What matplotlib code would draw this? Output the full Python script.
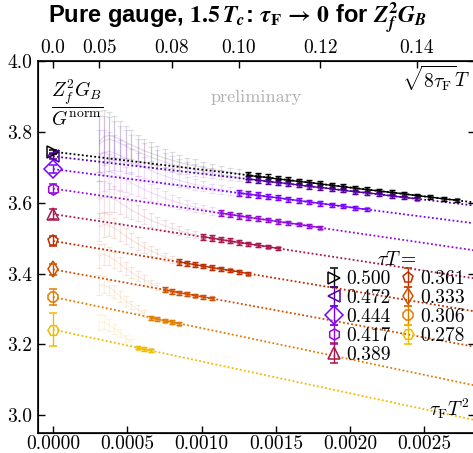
import numpy as np
import matplotlib
matplotlib.use('Agg')
import matplotlib.pyplot as plt

plt.rcParams['font.family'] = 'serif'
plt.rcParams['font.serif'] = ['cmr10']
plt.rcParams['mathtext.fontset'] = 'cm'
plt.rcParams['axes.formatter.use_mathtext'] = True
plt.rcParams['axes.unicode_minus'] = False

# flow radius sqrt(8 tau_F) T of every flow time
flow_radius = [0.0500, 0.0525, 0.0550, 0.0575, 0.0600, 0.0625, 0.0650, 0.0675,
               0.0700, 0.0725, 0.0750, 0.0775, 0.0800, 0.0825, 0.0850, 0.0875,
               0.0900, 0.0925, 0.0950, 0.0975, 0.1000, 0.1025, 0.1050, 0.1075,
               0.1100, 0.1125, 0.1150, 0.1175, 0.1200, 0.1225, 0.1250, 0.1275,
               0.1300, 0.1325, 0.1350, 0.1375, 0.1400, 0.1425, 0.1450, 0.1475]

tauT = ['0.500', '0.472', '0.444', '0.417', '0.389', '0.361', '0.333', '0.306', '0.278']
markers = ['>', '<', 'D', 'h', '^', 'p', 'd', '8', 'H']
msizes = [8, 8, 9, 8, 8, 8, 8, 8, 8]

# continuum (tau_F -> 0) values and the linear fit slopes
cont_val = [3.744, 3.731, 3.695, 3.640, 3.568, 3.492, 3.412, 3.334, 3.242]
cont_err = [0.006, 0.009, 0.012, 0.012, 0.014, 0.013, 0.016, 0.022, 0.046]
fit_slope = [-50.5, -49.0, -54.0, -61.5, -64.0, -70.0, -77.0, -88.0, -90.0]

# flow times too small for the fit (drawn faded)
faded_vals = [
    [3.773, 3.787, 3.790, 3.786, 3.779, 3.771, 3.763, 3.755, 3.747, 3.740, 3.733,
     3.726, 3.720, 3.714, 3.708, 3.704, 3.699, 3.694, 3.690, 3.686, 3.682],
    [3.766, 3.776, 3.779, 3.775, 3.768, 3.760, 3.752, 3.744, 3.736, 3.729, 3.722,
     3.715, 3.709, 3.703, 3.698, 3.693, 3.688, 3.684, 3.680, 3.676, 3.672],
    [3.733, 3.742, 3.745, 3.741, 3.733, 3.725, 3.716, 3.707, 3.699, 3.691, 3.683,
     3.676, 3.669, 3.663, 3.657, 3.651, 3.646, 3.641, 3.637, 3.633],
    [3.679, 3.687, 3.688, 3.683, 3.674, 3.665, 3.656, 3.646, 3.637, 3.629, 3.621,
     3.613, 3.606, 3.599, 3.593, 3.587, 3.582, 3.576],
    [3.608, 3.616, 3.616, 3.610, 3.600, 3.590, 3.579, 3.570, 3.560, 3.551, 3.543,
     3.535, 3.528, 3.522, 3.515, 3.510],
    [3.532, 3.538, 3.536, 3.528, 3.518, 3.506, 3.495, 3.484, 3.474, 3.465, 3.456,
     3.447, 3.440],
    [3.450, 3.454, 3.449, 3.439, 3.427, 3.415, 3.403, 3.392, 3.382, 3.372, 3.364],
    [3.367, 3.368, 3.361, 3.350, 3.336, 3.323, 3.311, 3.299, 3.288],
    [3.264, 3.263, 3.255, 3.244, 3.232, 3.218, 3.206],
]
faded_errs = [
    [0.085, 0.075, 0.066, 0.058, 0.052, 0.046, 0.041, 0.037, 0.033, 0.030, 0.027,
     0.025, 0.023, 0.021, 0.019, 0.018, 0.016, 0.015, 0.014, 0.013, 0.012],
    [0.080, 0.070, 0.062, 0.055, 0.049, 0.044, 0.039, 0.035, 0.032, 0.029, 0.026,
     0.024, 0.022, 0.020, 0.018, 0.017, 0.015, 0.014, 0.013, 0.012, 0.011],
    [0.072, 0.063, 0.056, 0.050, 0.044, 0.040, 0.036, 0.032, 0.029, 0.026, 0.024,
     0.022, 0.020, 0.018, 0.016, 0.015, 0.014, 0.013, 0.012, 0.011],
    [0.062, 0.055, 0.049, 0.043, 0.039, 0.035, 0.031, 0.028, 0.025, 0.023, 0.021,
     0.019, 0.017, 0.016, 0.014, 0.013, 0.012, 0.011],
    [0.052, 0.046, 0.041, 0.036, 0.032, 0.029, 0.026, 0.023, 0.021, 0.019, 0.017,
     0.015, 0.014, 0.013, 0.012, 0.011],
    [0.040, 0.035, 0.031, 0.028, 0.025, 0.022, 0.020, 0.018, 0.016, 0.014, 0.013,
     0.012, 0.011],
    [0.034, 0.030, 0.026, 0.023, 0.021, 0.018, 0.016, 0.014, 0.013, 0.011, 0.010],
    [0.028, 0.024, 0.021, 0.018, 0.016, 0.014, 0.012, 0.011, 0.010],
    [0.022, 0.019, 0.016, 0.014, 0.012, 0.010, 0.009],
]

# flow times used in the extrapolation
fit_vals = [
    [3.677, 3.674, 3.671, 3.667, 3.664, 3.660, 3.657, 3.653, 3.649, 3.645, 3.641,
     3.637, 3.633, 3.629, 3.625, 3.620, 3.616, 3.611, 3.607],
    [3.667, 3.664, 3.660, 3.657, 3.654, 3.650, 3.646, 3.643, 3.639, 3.635, 3.631,
     3.628, 3.624, 3.619, 3.615, 3.611],
    [3.628, 3.624, 3.621, 3.617, 3.614, 3.610, 3.606, 3.602, 3.598, 3.594, 3.590,
     3.585, 3.581],
    [3.571, 3.567, 3.563, 3.559, 3.555, 3.551, 3.547, 3.543, 3.539, 3.534, 3.530],
    [3.504, 3.500, 3.496, 3.492, 3.488, 3.484, 3.480, 3.476, 3.471],
    [3.433, 3.429, 3.425, 3.421, 3.417, 3.413, 3.409, 3.405, 3.400],
    [3.354, 3.350, 3.346, 3.342, 3.338, 3.334, 3.330],
    [3.275, 3.271, 3.267, 3.263, 3.259],
    [3.191, 3.187, 3.183],
]
fit_errs = [
    [0.010, 0.010, 0.009, 0.009, 0.009, 0.008, 0.008, 0.008, 0.007, 0.007, 0.007,
     0.006, 0.006, 0.006, 0.005, 0.005, 0.005, 0.005, 0.004],
    [0.009, 0.009, 0.008, 0.008, 0.008, 0.007, 0.007, 0.007, 0.006, 0.006, 0.006,
     0.005, 0.005, 0.005, 0.005, 0.004],
    [0.009, 0.008, 0.008, 0.007, 0.007, 0.007, 0.006, 0.006, 0.006, 0.005, 0.005,
     0.005, 0.004],
    [0.009, 0.008, 0.008, 0.007, 0.007, 0.006, 0.006, 0.006, 0.005, 0.005, 0.005],
    [0.008, 0.008, 0.007, 0.007, 0.006, 0.006, 0.006, 0.005, 0.005],
    [0.008, 0.007, 0.007, 0.006, 0.006, 0.006, 0.005, 0.005, 0.005],
    [0.007, 0.007, 0.006, 0.006, 0.005, 0.005, 0.005],
    [0.006, 0.006, 0.005, 0.005, 0.005],
    [0.005, 0.005, 0.004],
]

top_ticks = [0.0, 0.05, 0.08, 0.10, 0.12, 0.14]
top_labels = ['0.0', '0.05', '0.08', '0.10', '0.12', '0.14']
bottom_ticks = [0.0, 0.0005, 0.0010, 0.0015, 0.0020, 0.0025]
y_ticks = [3.0, 3.2, 3.4, 3.6, 3.8, 4.0]

W, H = 473, 453
fig = plt.figure(figsize=(W / 100, H / 100), dpi=100)
ax = fig.add_axes([38 / W, 20 / H, (475 - 38) / W, 372 / H])
xmax = 0.00284
ax.set_xlim(-0.000101, xmax)
ax.set_ylim(2.95, 4.0)

colors = plt.cm.gnuplot(np.linspace(0, 0.9, len(tauT)))
s = np.array(flow_radius)
xall = s**2 / 8

handles = []
for i, c in enumerate(colors):
    nf = len(faded_vals[i])
    nb = len(fit_vals[i])
    xf = xall[:nf]
    xb = xall[nf:nf + nb]
    # faded, not used in fit
    ax.errorbar(xf, faded_vals[i], faded_errs[i], color=c, alpha=0.12, lw=0.9,
                capsize=2, capthick=0.9, zorder=1)
    # fit line
    ax.plot([0, xmax], [cont_val[i], cont_val[i] + fit_slope[i] * xmax],
            ls=(0, (1, 1.3)), lw=1.3, color=c, zorder=2)
    # fitted points
    ax.errorbar(xb, fit_vals[i], fit_errs[i], color=c, lw=1.0, marker='s', ms=3.5,
                mfc=(c[0], c[1], c[2], 0.45), mec=(c[0], c[1], c[2], 0.45),
                capsize=2, capthick=1.0, zorder=3)
    # continuum value
    h = ax.errorbar([0.0], [cont_val[i]], [cont_err[i]], color=c, marker=markers[i],
                    ms=msizes[i], mfc='none', mew=1.1, capsize=3, capthick=1.0,
                    lw=1.0, ls='none', zorder=4, label=tauT[i])
    handles.append(h)

ax.set_xticks(bottom_ticks)
ax.set_xticklabels(['%.4f' % v for v in bottom_ticks])
ax.set_yticks(y_ticks)
ax.set_yticklabels(['%.1f' % v for v in y_ticks])
ax.tick_params(direction='in', length=5, width=1.0, labelsize=14, top=False,
               right=True)
ax.tick_params(axis='x', pad=1.5)
ax.tick_params(axis='y', pad=4)
for sp in ax.spines.values():
    sp.set_linewidth(1.2)

ax2 = ax.twiny()
ax2.set_xlim(ax.get_xlim())
ax2.set_xticks([v**2 / 8 for v in top_ticks])
ax2.set_xticklabels(top_labels)
ax2.tick_params(direction='in', length=5, width=1.0, labelsize=14, pad=3)

ax.legend(handles=handles, ncol=2, title=r'$\tau T =$', title_fontsize=14,
          fontsize=14, frameon=False, loc='upper left',
          bbox_to_anchor=(0.662, 0.488), handlelength=0.7, handletextpad=0.3,
          columnspacing=0.5, labelspacing=0.05, borderpad=0, borderaxespad=0)

fig.text(77 / W, 1 - 103 / H, r'$\dfrac{Z_f^2 G_B}{G^\mathrm{norm}}$', fontsize=14,
         ha='center', va='center')
fig.text(436 / W, 1 - 78 / H, r'$\sqrt{8\tau_\mathrm{F}}T$', fontsize=14,
         ha='center', va='center')
fig.text(449 / W, 1 - 409 / H, r'$\tau_\mathrm{F}T^2$', fontsize=14,
         ha='center', va='center')
fig.text(256 / W, 1 - 97 / H, 'preliminary', fontsize=13, color='#b0b0b0',
         ha='center', va='center')
fig.text(238 / W, 1 - 18 / H,
         r'Pure gauge, $\mathbf{1.5}\,\mathbfit{T}_{\mathbfit{c}}$: '
         r'$\mathbfit{\tau}_\mathbf{F}\,\mathbf{\to\,0}$ for '
         r'$\mathbfit{Z}_{\mathbfit{f}}^{\mathbf{2}}\mathbfit{G}_{\mathbfit{B}}$',
         fontsize=17, fontweight='bold', family='Liberation Sans',
         math_fontfamily='stix', ha='center', va='center')

fig.savefig('out.png', dpi=100)
